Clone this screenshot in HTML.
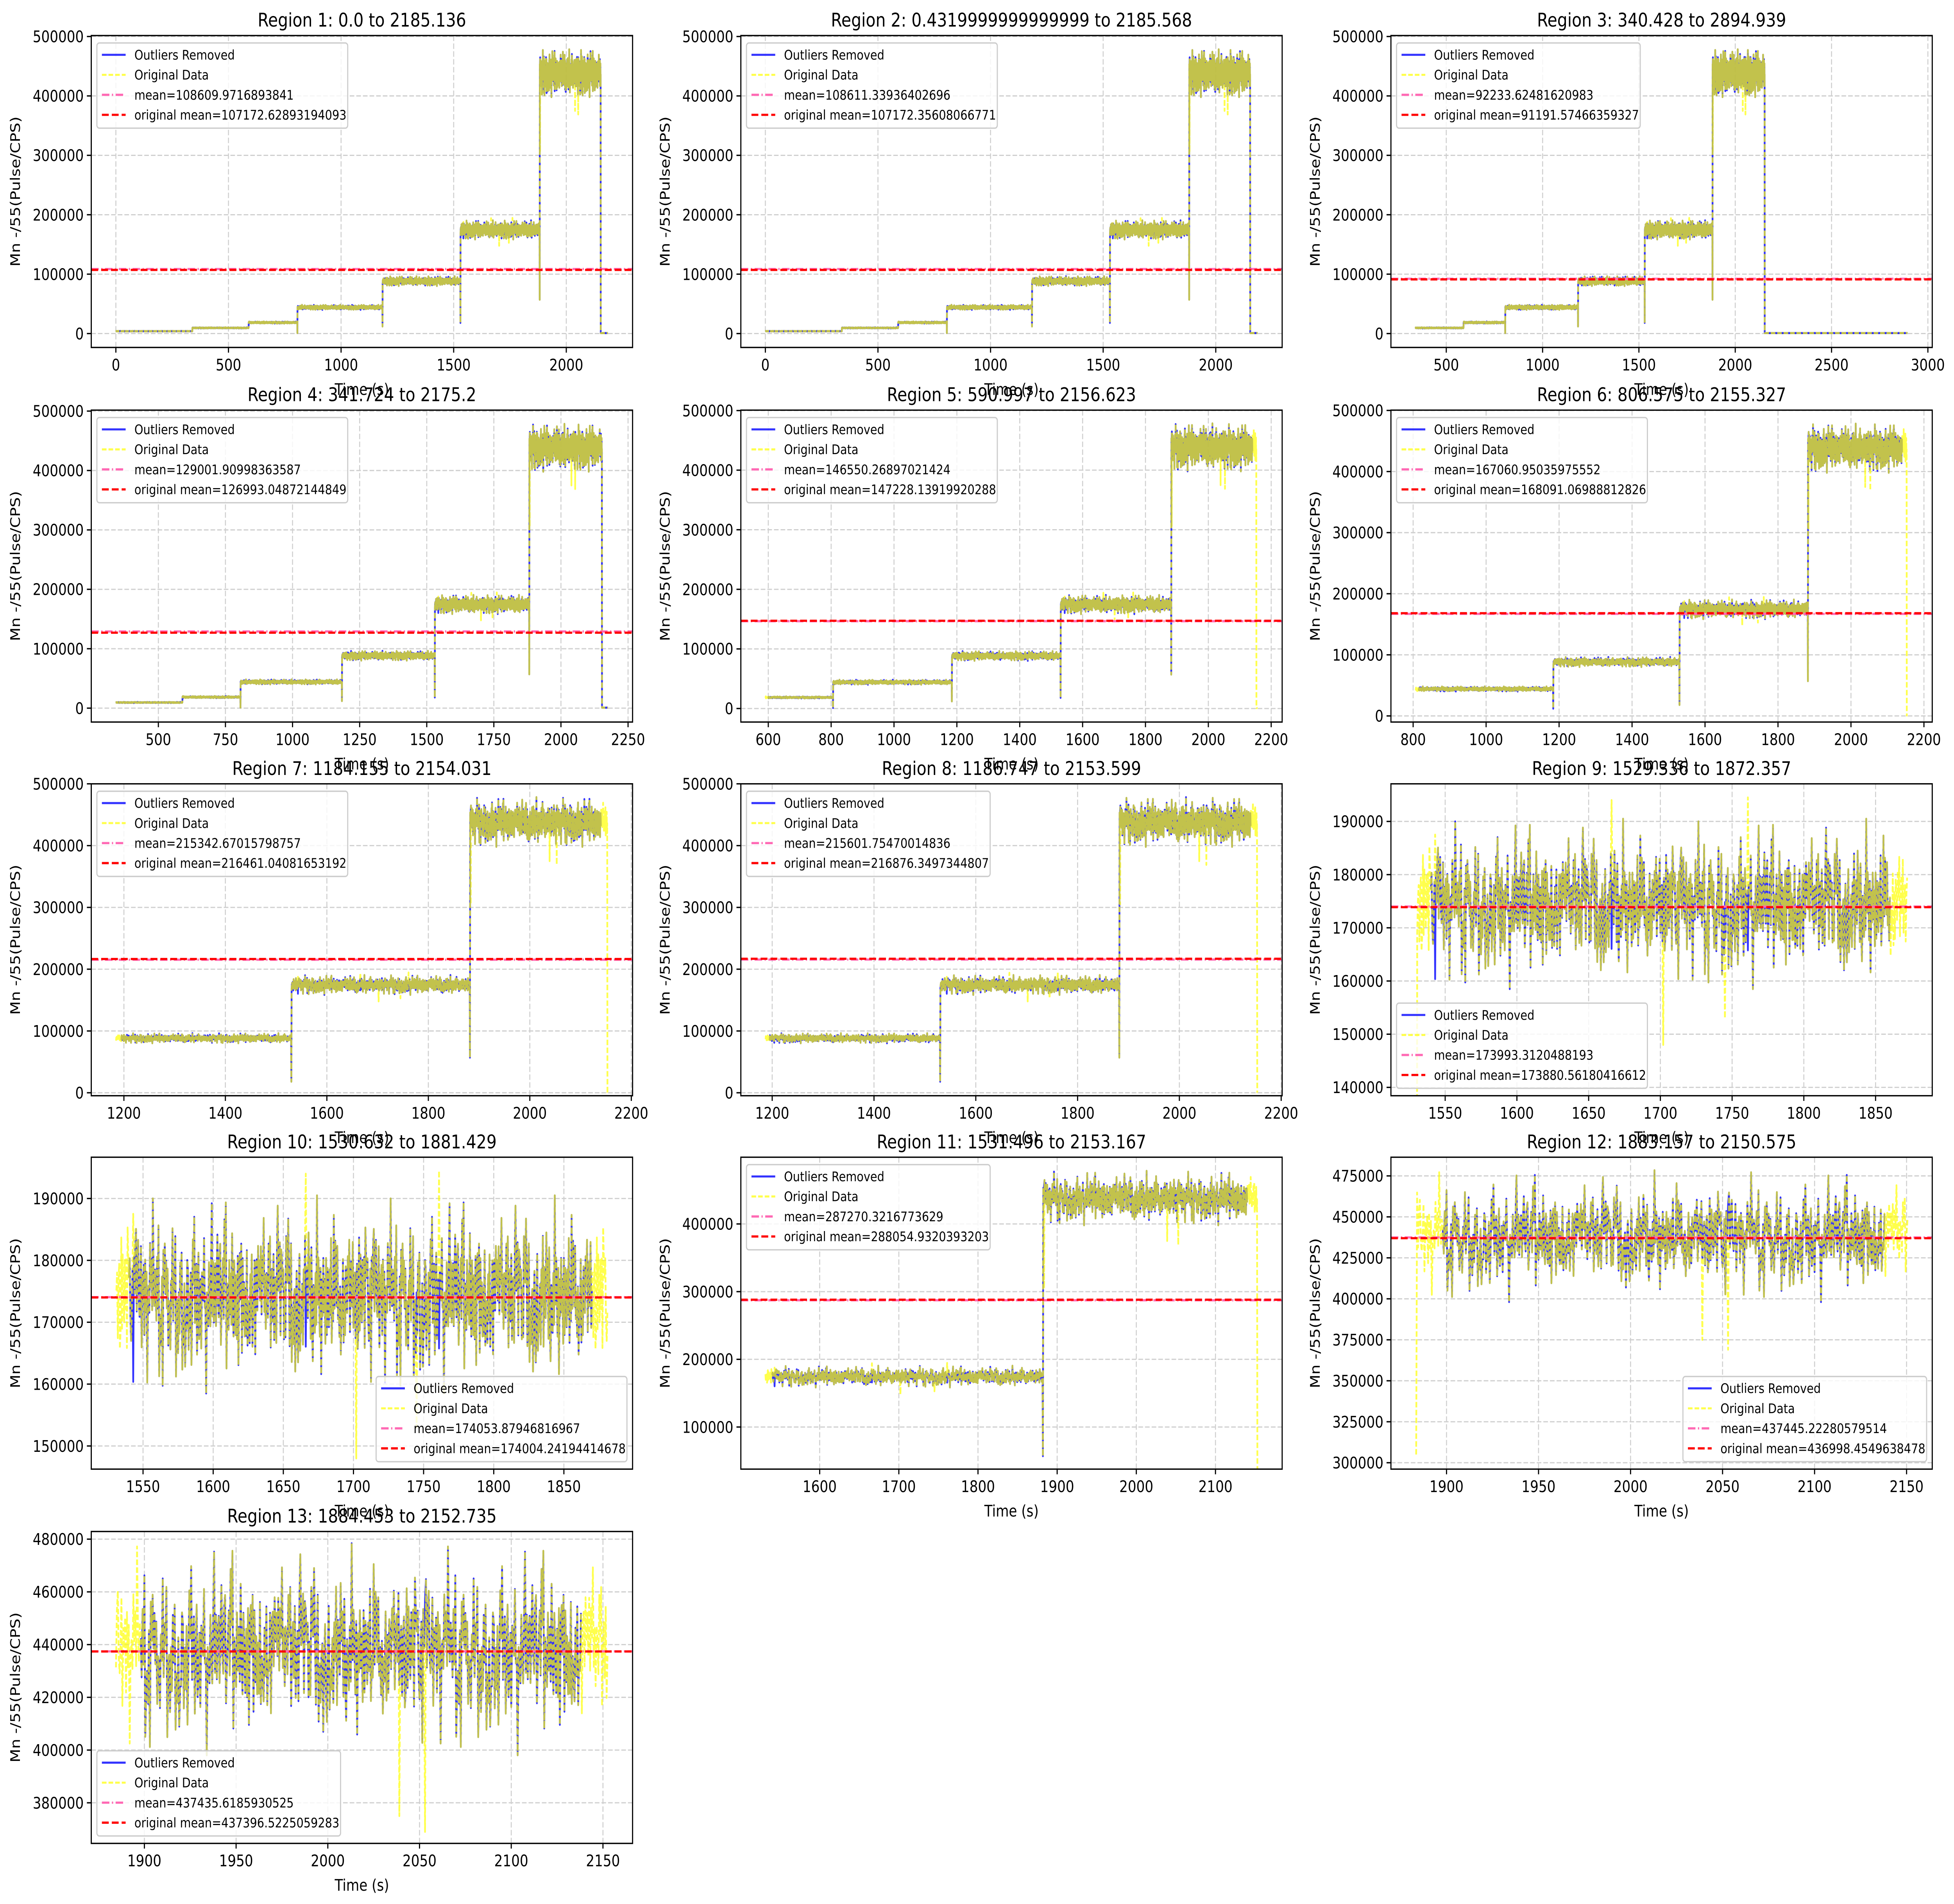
<!DOCTYPE html>
<html><head><meta charset="utf-8"><title>Regions</title>
<style>html,body{margin:0;padding:0;background:#fff;overflow:hidden;width:100vw;height:100vh}svg{display:block;width:100vw;height:100vh}text{font-family:"DejaVu Sans","Liberation Sans",sans-serif}</style>
</head><body>
<svg id="fig" xmlns="http://www.w3.org/2000/svg" viewBox="0 0 1563 1285" preserveAspectRatio="none">
<rect x="0" y="0" width="1563" height="1285" fill="#fff"/>
</svg>
<script>
// ---- data arrays ----
const stepStarts = [0, 340, 590, 806, 1184, 1530, 1882, 2153];
const stepLevels = [4000, 9500, 18500, 44000, 88000, 174000, 437000, 800];
const dipTimes = [806, 1184, 1530, 1882];
const dipValues = [1000, 12000, 18000, 57000];
const outlierTimes = [1543, 1666, 1702, 1745, 1761, 1883.5, 2039, 2053];
const outlierValues = [187500, 194000, 148000, 153000, 194500, 305000, 375000, 369000];
const noisePct = [1.5,-2.8,4.2,-0.6,5.1,-6.3,0.8,3.4,-2.1,6.2,-4.4,0.2,2.9,-5.2,1.7,7.4,-3.1,-0.9,4.3,-7.2,2.2,1.1,-2.4,5.3,-3.3,3.1,-8.1,4.4,0.3,-1.8,6.1,-1.2,-4.1,3.2,8.6,-5.4,1.3,-3.2,2.5,4.1,-6.1,0.4,5.2,-2.2,-4.3,3.3,9.1,-3.4,1.2,-1.1,2.4,-5.1,4.2,-2.3,6.3,-7.4,3.1,0.1,-3.2,5.4,-1.3,2.1,-4.2,7.1,-2.5,-6.2,3.2,1.4,-3.1,4.3,-2.1,8.2,-5.3,0.5,2.3,-3.4,5.1,-8.4,3.3,-1.2,4.1,-2.6,1.5,-4.4,6.2,-3.3,2.2,0.2,-5.1,3.4,-2.2,7.3,-4.1,1.1,-1.4,5.3,-6.3,2.1,3.2,-3.1,4.4,-0.7,2.6,-2.9,3.8,-4.6,1.9,-1.5,6.6,-3.7,0.9,-5.8,2.7];
const titles = ["Region 1: 0.0 to 2185.136","Region 2: 0.4319999999999999 to 2185.568","Region 3: 340.428 to 2894.939","Region 4: 341.724 to 2175.2","Region 5: 590.997 to 2156.623","Region 6: 806.575 to 2155.327","Region 7: 1184.155 to 2154.031","Region 8: 1186.747 to 2153.599","Region 9: 1529.336 to 1872.357","Region 10: 1530.632 to 1881.429","Region 11: 1531.496 to 2153.167","Region 12: 1883.157 to 2150.575","Region 13: 1884.453 to 2152.735"];
const rangeStart = [0.0, 0.432, 340.428, 341.724, 590.997, 806.575, 1184.155, 1186.747, 1529.336, 1530.632, 1531.496, 1883.157, 1884.453];
const rangeEnd = [2185.136, 2185.568, 2894.939, 2175.2, 2156.623, 2155.327, 2154.031, 2153.599, 1872.357, 1881.429, 2153.167, 2150.575, 2152.735];
const cleanStart = [0, 0.432, 340.428, 341.724, 600, 815, 1195, 1195, 1540, 1540, 1540, 1898, 1898];
const cleanEnd = [2185.136, 2185.568, 2894.939, 2175.2, 2140, 2140, 2140, 2140, 1860, 1870, 2140, 2138, 2138];
const meanValues = [108609.9716893841,108611.33936402696,92233.62481620983,129001.90998363587,146550.26897021424,167060.95035975552,215342.67015798757,215601.75470014836,173993.3120488193,174053.87946816967,287270.3216773629,437445.22280579514,437435.6185930525];
const meanLabels = ["108609.9716893841","108611.33936402696","92233.62481620983","129001.90998363587","146550.26897021424","167060.95035975552","215342.67015798757","215601.75470014836","173993.3120488193","174053.87946816967","287270.3216773629","437445.22280579514","437435.6185930525"];
const origMeanValues = [107172.62893194093,107172.35608066771,91191.57466359327,126993.04872144849,147228.13919920288,168091.06988812826,216461.04081653192,216876.3497344807,173880.56180416612,174004.24194414678,288054.9320393203,436998.4549638478,437396.5225059283];
const origMeanLabels = ["107172.62893194093","107172.35608066771","91191.57466359327","126993.04872144849","147228.13919920288","168091.06988812826","216461.04081653192","216876.3497344807","173880.56180416612","174004.24194414678","288054.9320393203","436998.4549638478","437396.5225059283"];
const yMin = [-23400,-23400,-23400,-23400,-22700,-10000,-4800,-4800,138430,146260,37800,296100,364600];
const yMax = [501600,501600,501600,501600,500700,500500,500000,500000,197070,196670,498600,486400,482900];
const xTicks = [
 [0,500,1000,1500,2000],[0,500,1000,1500,2000],[500,1000,1500,2000,2500,3000],
 [500,750,1000,1250,1500,1750,2000,2250],[600,800,1000,1200,1400,1600,1800,2000,2200],
 [800,1000,1200,1400,1600,1800,2000,2200],[1200,1400,1600,1800,2000,2200],[1200,1400,1600,1800,2000,2200],
 [1550,1600,1650,1700,1750,1800,1850],[1550,1600,1650,1700,1750,1800,1850],[1600,1700,1800,1900,2000,2100],
 [1900,1950,2000,2050,2100,2150],[1900,1950,2000,2050,2100,2150]];
const yTicks = [
 [0,100000,200000,300000,400000,500000],[0,100000,200000,300000,400000,500000],[0,100000,200000,300000,400000,500000],
 [0,100000,200000,300000,400000,500000],[0,100000,200000,300000,400000,500000],[0,100000,200000,300000,400000,500000],
 [0,100000,200000,300000,400000,500000],[0,100000,200000,300000,400000,500000],
 [140000,150000,160000,170000,180000,190000],[150000,160000,170000,180000,190000],[100000,200000,300000,400000],
 [300000,325000,350000,375000,400000,425000,450000,475000],[380000,400000,420000,440000,460000,480000]];
const legendLoc = ["ul","ul","ul","ul","ul","ul","ul","ul","ll","lr","ul","lr","ll"];

// ---- layout ----
const colLeft = [73, 592.6, 1112.6];
const axW = 433;
const rowTop = [24, 276.8, 529, 781, 1033.6];
const axH = 210.5;
const NS = "http://www.w3.org/2000/svg";
const svg = document.getElementById('fig');
function mk(tag, attrs, parent){
  const e = document.createElementNS(NS, tag);
  for (const k in attrs) e.setAttribute(k, attrs[k]);
  (parent||svg).appendChild(e);
  return e;
}
function levelAt(t){ let v = stepLevels[0]; for (let i=0;i<stepStarts.length;i++) if (t>=stepStarts[i]) v = stepLevels[i]; return v; }
function cleanVal(t){
  for (let i=0;i<dipTimes.length;i++) if (Math.abs(t-dipTimes[i])<0.26) return dipValues[i];
  const idx = Math.round(t*2);
  const N = noisePct.length;
  const n = 0.75*noisePct[idx%N] + 0.45*noisePct[(Math.floor(idx/3)*7)%N];
  return levelAt(t)*(1+n/100);
}
function origVal(t){
  for (let i=0;i<outlierTimes.length;i++) if (Math.abs(t-outlierTimes[i])<0.26) return outlierValues[i];
  return cleanVal(t);
}
function fmt(v){ return String(v); }

for (let p=0;p<13;p++){
  const r = Math.floor(p/3), c = p%3;
  const L = colLeft[c], T = rowTop[r], R = L+axW, B = T+axH;
  const span = rangeEnd[p]-rangeStart[p];
  const x0 = rangeStart[p]-0.05*span, x1 = rangeEnd[p]+0.05*span;
  const y0 = yMin[p], y1 = yMax[p];
  const sx = v => L + (v-x0)/(x1-x0)*axW;
  const sy = v => B - (v-y0)/(y1-y0)*axH;

  const g = mk('g', {});
  
  
  const cp = mk('clipPath', {id:'clip'+p}, g);
  mk('rect', {x:L, y:T, width:axW, height:axH}, cp);

  const grid = mk('g', {stroke:'#b0b0b0','stroke-width':0.8,'stroke-dasharray':'3.7,1.6',opacity:0.6}, g);
  
  
  xTicks[p].forEach(v=>{ mk('line',{x1:sx(v),x2:sx(v),y1:T,y2:B},grid); });
  yTicks[p].forEach(v=>{ mk('line',{x1:L,x2:R,y1:sy(v),y2:sy(v)},grid); });

  const plot = mk('g', {'clip-path':'url(#clip'+p+')'}, g);
  let d = '';
  let t = Math.ceil(cleanStart[p]*2)/2;
  for (let first=true; t<=cleanEnd[p]; t+=0.5, first=false) d += (first?'M':'L')+sx(t).toFixed(2)+' '+sy(cleanVal(t)).toFixed(2);
  const blue = mk('path', {d:d, fill:'none', stroke:'#0000ff', 'stroke-opacity':0.8, 'stroke-width':1.4, 'stroke-linejoin':'round'}, plot);
  
  
  d = '';
  t = Math.ceil(rangeStart[p]*2)/2;
  for (let first=true; t<=rangeEnd[p]; t+=0.5, first=false) d += (first?'M':'L')+sx(t).toFixed(2)+' '+sy(origVal(t)).toFixed(2);
  const yel = mk('path', {d:d, fill:'none', stroke:'#ffff00', 'stroke-opacity':0.7, 'stroke-width':1.4, 'stroke-dasharray':'3.7,1.6', 'stroke-linejoin':'round'}, plot);
  
  
  const ml = mk('line', {x1:L,x2:R,y1:sy(meanValues[p]),y2:sy(meanValues[p]),stroke:'#ff69b4','stroke-width':1.5,'stroke-dasharray':'6,2,1,2'}, plot);
  
  
  const oml = mk('line', {x1:L,x2:R,y1:sy(origMeanValues[p]),y2:sy(origMeanValues[p]),stroke:'#ff0000','stroke-width':1.5,'stroke-dasharray':'5.5,2.4'}, plot);
  
  

  const fr = mk('rect', {x:L,y:T,width:axW,height:axH,fill:'none',stroke:'#000','stroke-width':0.9}, g);
  
  

  xTicks[p].forEach(v=>{
    mk('line',{x1:sx(v),x2:sx(v),y1:B,y2:B+3.5,stroke:'#000','stroke-width':0.9},g);
    const tx = mk('text',{x:sx(v),y:B+15.5,'font-size':10.7,'text-anchor':'middle',fill:'#000'},g);
    tx.textContent = fmt(v);
    
    
  });
  yTicks[p].forEach(v=>{
    mk('line',{x1:L-3.5,x2:L,y1:sy(v),y2:sy(v),stroke:'#000','stroke-width':0.9},g);
    const ty = mk('text',{x:L-6,y:sy(v)+3.9,'font-size':10.7,'text-anchor':'end',fill:'#000'},g);
    ty.textContent = fmt(v);
    
    
  });
  const xl = mk('text',{x:L+axW/2,y:B+32,'font-size':10.7,'text-anchor':'middle',fill:'#000'},g);
  xl.textContent = 'Time (s)';
  
  
  const yl = mk('text',{x:0,y:0,'font-size':10.7,'text-anchor':'middle',fill:'#000',transform:'translate('+(L-57)+','+(T+axH/2)+') rotate(-90)'},g);
  yl.textContent = 'Mn -/55(Pulse/CPS)';
  
  
  const tt = mk('text',{x:L+axW/2,y:T-6,'font-size':12.8,'text-anchor':'middle',fill:'#000'},g);
  tt.textContent = titles[p];
  
  

  const lg = mk('g', {}, g);
  
  
  const box = mk('rect', {rx:2,ry:2,fill:'#fff','fill-opacity':0.8,stroke:'#cccccc','stroke-width':0.9}, lg);
  const labels = ['Outliers Removed','Original Data','mean='+meanLabels[p],'original mean='+origMeanLabels[p]];
  const styles = [
    {stroke:'#0000ff','stroke-opacity':0.8,'stroke-width':1.4},
    {stroke:'#ffff00','stroke-opacity':0.7,'stroke-width':1.4,'stroke-dasharray':'3.7,1.6'},
    {stroke:'#ff69b4','stroke-width':1.5,'stroke-dasharray':'6,2,1,2'},
    {stroke:'#ff0000','stroke-width':1.5,'stroke-dasharray':'5.5,2.4'}];
  const texts = [];
  const items = [];
  for (let i=0;i<4;i++){
    const it = mk('g', {}, lg);
    
    
    mk('line', Object.assign({x1:0,x2:19,y1:0,y2:0}, styles[i]), it);
    const tx = mk('text', {x:26,y:3.2,'font-size':9,fill:'#000'}, it);
    tx.textContent = labels[i];
    texts.push(tx); items.push(it);
  }
  let maxW = 0;
  texts.forEach(tx=>{ let w = 0; try { w = tx.getComputedTextLength(); } catch(e){} if (!w) w = tx.textContent.length*5.2; maxW = Math.max(maxW, w); });
  const bw = 26 + maxW + 5, bh = 57.5;
  let bx, by;
  if (legendLoc[p]==='ul'){ bx = L+4.5; by = T+5; }
  else if (legendLoc[p]==='ll'){ bx = L+4.5; by = B-5-bh; }
  else { bx = R-4.5-bw; by = B-5-bh; }
  box.setAttribute('x', bx); box.setAttribute('y', by);
  box.setAttribute('width', bw); box.setAttribute('height', bh);
  items.forEach((it,i)=>{ it.setAttribute('transform','translate('+(bx+4)+','+(by+8+13.5*i)+')'); });
}
</script>
</body></html>
